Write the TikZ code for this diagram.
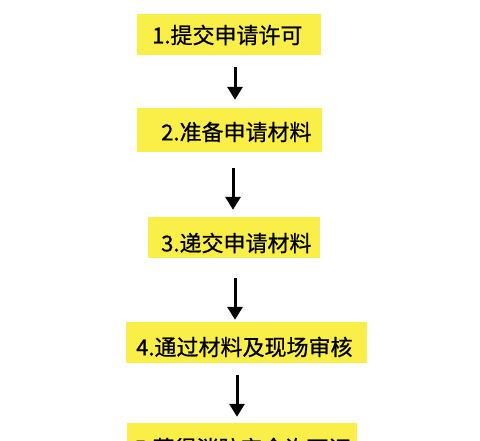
\documentclass[tikz,border=0pt]{standalone}
\usepackage{fontspec}
\newfontfamily\cjk[FakeBold=0.8]{Noto Sans CJK SC}
\usetikzlibrary{arrows.meta}
\definecolor{boxyellow}{RGB}{250,238,72}
\begin{document}
\begin{tikzpicture}[x=1pt,y=1pt,
  box/.style={rectangle, fill=boxyellow, inner sep=0pt},
  txt/.style={anchor=west, inner sep=0pt, font=\cjk\fontsize{22}{25}\selectfont, text=black},
  arr/.style={line width=3pt, -{Triangle[width=15pt,length=13pt]}}]
\clip (0,0) rectangle (480,440);
\fill[white] (0,0) rectangle (480,440);
% boxes (y = 440 - pixel y)
\node[box, minimum width=184, minimum height=41] (b1) at (229,405.5) {};
\node[box, minimum width=185, minimum height=44] (b2) at (229.5,310) {};
\node[box, minimum width=172, minimum height=41] (b3) at (234,202.5) {};
\node[box, minimum width=241, minimum height=41] (b4) at (246.5,97.5) {};
\node[box, minimum width=230, minimum height=41] (b5) at (242,-3.5) {};
% texts
\node[txt] (t1) at (152,405) {1.提交申请许可};
\node[txt] (t2) at (161,308) {2.准备申请材料};
\node[txt] (t3) at (161,197) {3.递交申请材料};
\node[txt] (t4) at (136,93) {4.通过材料及现场审核};
\node[txt] (t5) at (134,-8) {5.获得消防安全许可证};
% arrows
\draw[arr, shorten <=12pt, shorten >=8pt] (b1.south -| 235,0) -- (b2.north -| 235,0);
\draw[arr, shorten <=16pt, shorten >=7pt] (b2.south -| 233,0) -- (b3.north -| 233,0);
\draw[arr, shorten <=20pt, shorten >=2pt] (b3.south -| 235,0) -- (b4.north -| 235,0);
\draw[arr, shorten <=12pt, shorten >=6pt] (b4.south -| 237,0) -- (b5.north -| 237,0);
\end{tikzpicture}
\end{document}
